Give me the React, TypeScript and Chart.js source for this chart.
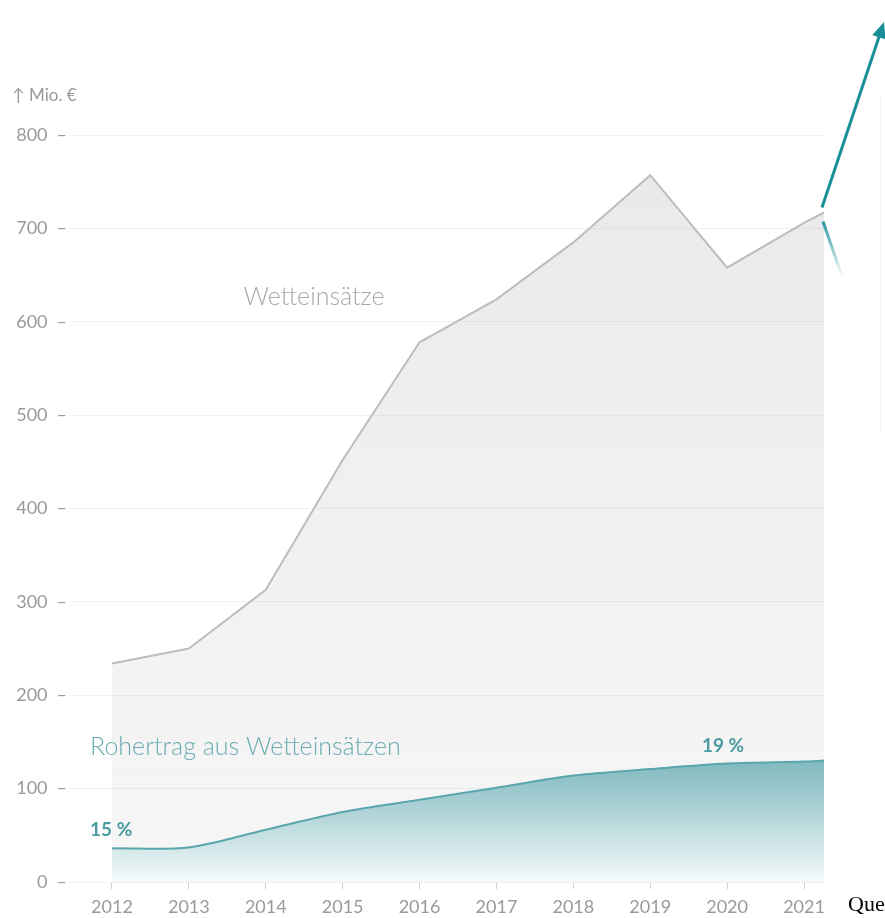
import { useEffect, useRef } from "react";
import { Chart, registerables } from "chart.js";

Chart.register(...registerables);

// ---- data ----
const years = [2012, 2013, 2014, 2015, 2016, 2017, 2018, 2019, 2020, 2021];
const visibleEnd = 2021.26; // the picture cuts the series a little after 2021
const xValues = [...years, visibleEnd];
const wetteinsaetze = [234, 250, 313, 452, 578, 624, 685, 757, 658, 706, 717];
const rohertrag = [36, 37, 56, 75, 88, 101, 114, 121, 127, 129, 130];
const yTicks = [0, 100, 200, 300, 400, 500, 600, 700, 800];
const unitLabel = "↑ Mio. €";
const labelWette = "Wetteinsätze";
const labelRoh = "Rohertrag aus Wetteinsätzen";
const shareStart = "15 %";
const shareEnd = "19 %";

const TEAL = "#1b8f98";

const annotations = {
  id: "annotations",
  afterDatasetsDraw(chart: any) {
    const ctx = chart.ctx as CanvasRenderingContext2D;
    const xs = chart.scales.x;
    const ys = chart.scales.y;
    ctx.save();
    ctx.textBaseline = "middle";

    ctx.font = "17px Lato";
    ctx.fillStyle = "#9a9a9a";
    ctx.textAlign = "left";
    ctx.fillText(unitLabel, 12, 96);

    ctx.font = "300 25px Lato";
    ctx.fillStyle = "#a8a8a8";
    ctx.textAlign = "center";
    ctx.fillText(labelWette, 314, 297);

    ctx.fillStyle = "#6aacb2";
    ctx.textAlign = "left";
    ctx.fillText(labelRoh, 90, 747);

    ctx.font = "bold 19px Lato";
    ctx.fillStyle = "#4b9ba3";
    ctx.fillText(shareStart, 90, 830);
    ctx.textAlign = "center";
    ctx.fillText(shareEnd, 723, 746);

    // arrow from the end of the Wetteinsätze line
    const ex = xs.getPixelForValue(visibleEnd) - 2;
    const ey = ys.getPixelForValue(wetteinsaetze[wetteinsaetze.length - 1]);
    const sx = ex, sy = ey - 5;
    const tx = 884, ty = 22;
    const dx = tx - sx, dy = ty - sy;
    const len = Math.hypot(dx, dy);
    const ux = dx / len, uy = dy / len;
    const head = 16, hw = 7;
    const bx = tx - ux * head, by = ty - uy * head;
    ctx.strokeStyle = TEAL;
    ctx.lineWidth = 3;
    ctx.lineCap = "butt";
    ctx.beginPath();
    ctx.moveTo(sx, sy);
    ctx.lineTo(bx + ux * 2, by + uy * 2);
    ctx.stroke();
    ctx.fillStyle = TEAL;
    ctx.beginPath();
    ctx.moveTo(tx, ty);
    ctx.lineTo(bx - uy * hw, by + ux * hw);
    ctx.lineTo(bx + uy * hw, by - ux * hw);
    ctx.closePath();
    ctx.fill();

    // fading lower segment
    const g = ctx.createLinearGradient(ex + 1, ey + 9, ex + 20, ey + 64);
    g.addColorStop(0, "rgba(27,143,152,0.95)");
    g.addColorStop(1, "rgba(27,143,152,0)");
    ctx.strokeStyle = g;
    ctx.beginPath();
    ctx.moveTo(ex + 1, ey + 9);
    ctx.lineTo(ex + 20, ey + 64);
    ctx.stroke();

    // faint box edge on the right
    ctx.strokeStyle = "#f1f1f1";
    ctx.lineWidth = 1;
    ctx.beginPath();
    ctx.moveTo(880.5, 95);
    ctx.lineTo(880.5, 430);
    ctx.stroke();

    ctx.restore();
  },
};

export default function App() {
  const ref = useRef<HTMLCanvasElement>(null);

  useEffect(() => {
    Chart.defaults.font.family = "Lato";
    const chart = new Chart(ref.current as HTMLCanvasElement, {
      type: "line",
      data: {
        labels: xValues,
        datasets: [
          {
            label: labelRoh,
            data: xValues.map((x, i) => ({ x, y: rohertrag[i] })),
            borderColor: "#5aa6ad",
            borderWidth: 2,
            pointRadius: 0,
            tension: 0.3,
            fill: "origin",
            backgroundColor: (c: any) => {
              const ch = c.chart;
              const area = ch.chartArea;
              if (!area) return "#9cc9cd";
              const ys = ch.scales.y;
              const top = ys.getPixelForValue(Math.max(...rohertrag));
              const bottom = ys.getPixelForValue(0);
              const g = ch.ctx.createLinearGradient(0, top, 0, bottom);
              g.addColorStop(0, "#80b9bf");
              g.addColorStop(0.5, "#b8d9dc");
              g.addColorStop(1, "#f5fafa");
              return g;
            },
          },
          {
            label: labelWette,
            data: xValues.map((x, i) => ({ x, y: wetteinsaetze[i] })),
            borderColor: "#bdbdbd",
            borderWidth: 2,
            pointRadius: 0,
            tension: 0,
            fill: "origin",
            backgroundColor: (c: any) => {
              const ch = c.chart;
              const area = ch.chartArea;
              if (!area) return "rgba(200,200,200,0.25)";
              const g = ch.ctx.createLinearGradient(0, area.top, 0, area.bottom);
              g.addColorStop(0, "rgba(175,175,175,0.28)");
              g.addColorStop(1, "rgba(205,205,205,0.18)");
              return g;
            },
          },
        ],
      },
      options: {
        animation: false,
        responsive: false,
        maintainAspectRatio: false,
        layout: { padding: { left: 8, top: 135, right: 61, bottom: 0 } },
        plugins: {
          legend: { display: false },
          tooltip: { enabled: false },
        },
        scales: {
          x: {
            type: "linear",
            min: 2011.454,
            max: visibleEnd,
            afterBuildTicks: (s: any) => {
              s.ticks = years.map((v) => ({ value: v }));
            },
            afterFit: (s: any) => {
              s.height = 36;
            },
            ticks: {
              autoSkip: false,
              maxRotation: 0,
              padding: 7,
              color: "#9a9a9a",
              font: { size: 18, family: "Lato" },
              callback: (v: any) => String(v),
            },
            grid: {
              drawOnChartArea: false,
              drawTicks: true,
              tickLength: 7,
              tickColor: "#cfcfcf",
              color: "#cfcfcf",
            },
            border: { display: false },
          },
          y: {
            min: 0,
            max: 800,
            afterBuildTicks: (s: any) => {
              s.ticks = yTicks.map((v) => ({ value: v }));
            },
            afterFit: (s: any) => {
              s.width = 62;
            },
            ticks: {
              padding: 3,
              color: "#9a9a9a",
              font: { size: 18, family: "Lato" },
              callback: (v: any) => `${v}\u2002–`,
            },
            grid: {
              color: "#f0f0f0",
              lineWidth: 1,
              drawTicks: false,
            },
            border: { display: false },
          },
        },
      },
      plugins: [annotations],
    });
    return () => chart.destroy();
  }, []);

  return (
    <div
      style={{
        position: "fixed",
        left: 0,
        top: 0,
        width: 885,
        height: 918,
        overflow: "hidden",
        background: "#ffffff",
      }}
    >
      <canvas
        ref={ref}
        width={885}
        height={918}
        style={{ display: "block", width: 885, height: 918 }}
      />
      <span
        style={{
          position: "absolute",
          left: 848,
          top: 891,
          fontSize: 22,
          whiteSpace: "nowrap",
          color: "#000",
        }}
      >
        Quelle: Glücksspielaufsicht
      </span>
    </div>
  );
}
